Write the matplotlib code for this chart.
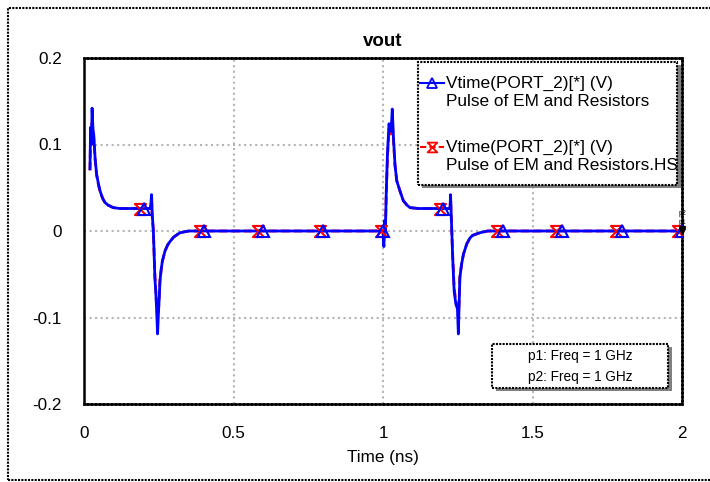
import numpy as np
import matplotlib
matplotlib.use('Agg')
import matplotlib.pyplot as plt
from matplotlib.patches import Rectangle
from matplotlib.lines import Line2D
from matplotlib.path import Path

plt.rcParams['font.family'] = ['Liberation Sans', 'DejaVu Sans']

# waveform samples (time in ns, voltage in V)
t_ns = [0.02, 0.022, 0.025, 0.027, 0.03, 0.033, 0.037, 0.042, 0.048, 0.054, 0.062,
        0.07, 0.08, 0.098, 0.12, 0.222, 0.226, 0.228, 0.232, 0.237, 0.240, 0.243,
        0.246, 0.249, 0.252, 0.254, 0.258, 0.262, 0.271, 0.28, 0.288, 0.30, 0.321,
        0.35, 1.0, 1.003, 1.005, 1.008, 1.011, 1.015, 1.02, 1.027, 1.031, 1.035,
        1.04, 1.046, 1.057, 1.068, 1.08, 1.09, 1.12, 1.224, 1.226, 1.229, 1.233,
        1.238, 1.244, 1.249, 1.252, 1.255, 1.257, 1.263, 1.269, 1.28, 1.291, 1.30,
        1.324, 1.35, 2.0]
v_em = [0.072, 0.12, 0.10, 0.142, 0.118, 0.11, 0.085, 0.066, 0.055, 0.046, 0.038,
        0.033, 0.030, 0.027, 0.026, 0.026, 0.042, 0.02, 0.0, -0.054, -0.07, -0.092,
        -0.119, -0.095, -0.075, -0.058, -0.045, -0.035, -0.023, -0.016, -0.012, -0.007, -0.002,
        0.0, 0.0, -0.018, 0.012, 0.0, 0.046, 0.09, 0.124, 0.115, 0.141, 0.108,
        0.077, 0.058, 0.046, 0.035, 0.030, 0.027, 0.026, 0.026, 0.042, 0.01, -0.03,
        -0.07, -0.085, -0.09, -0.119, -0.08, -0.054, -0.038, -0.027, -0.015, -0.008, -0.005,
        -0.002, 0.0, 0.0]
v_hs = [0.07, 0.11, 0.10, 0.125, 0.115, 0.105, 0.083, 0.065, 0.054, 0.045, 0.038,
        0.033, 0.030, 0.027, 0.026, 0.026, 0.036, 0.018, 0.0, -0.05, -0.068, -0.088,
        -0.10, -0.092, -0.073, -0.057, -0.045, -0.035, -0.023, -0.016, -0.012, -0.007, -0.002,
        0.0, 0.0, -0.012, 0.008, 0.0, 0.044, 0.085, 0.118, 0.112, 0.128, 0.105,
        0.076, 0.058, 0.046, 0.035, 0.030, 0.027, 0.026, 0.026, 0.036, 0.01, -0.028,
        -0.066, -0.082, -0.088, -0.10, -0.078, -0.053, -0.038, -0.027, -0.015, -0.008, -0.005,
        -0.002, 0.0, 0.0]

# marker positions along each trace
mk_em = [0.2, 0.4, 0.6, 0.8, 1.0, 1.2, 1.4, 1.6, 1.8, 2.0]
mk_hs = [0.187, 0.388, 0.582, 0.789, 0.993, 1.19, 1.381, 1.579, 1.779, 1.987]

legend_labels = ['Vtime(PORT_2)[*] (V)\nPulse of EM and Resistors',
                 'Vtime(PORT_2)[*] (V)\nPulse of EM and Resistors.HS']
marker_info = ['p1: Freq = 1 GHz', 'p2: Freq = 1 GHz']

W, H = 710, 482
def px(x, y):
    return (x / W, 1 - y / H)

fig = plt.figure(figsize=(7.1, 4.82), dpi=100)
ax = fig.add_axes([84 / W, 1 - 404 / H, (682 - 84) / W, (404 - 58) / H])

# hourglass marker
hour = Path([(-1, 1), (1, 1), (-1, -1), (1, -1), (-1, 1)],
            [Path.MOVETO, Path.LINETO, Path.LINETO, Path.LINETO, Path.CLOSEPOLY])

ax.plot(t_ns, v_hs, color='red', lw=2.0, ls=(0, (3, 1.5)), zorder=3)
ax.plot(t_ns, v_em, color='blue', lw=2.0, zorder=4)
ax.plot(mk_hs, np.interp(mk_hs, t_ns, v_hs), ls='none', marker=hour, ms=8,
        mfc='none', mec='red', mew=1.5, zorder=5)
ax.plot(mk_em, np.interp(mk_em, t_ns, v_em), ls='none', marker='^', ms=8,
        mfc='none', mec='blue', mew=1.5, zorder=5)

# p1 / p2 marker tags at the end
ax.plot([2.0, 2.0], [0.0, 0.002], ls='none', marker='v', ms=5, color='black', zorder=6, clip_on=False)
ax.text(2.0, 0.016, 'p2', fontsize=5, ha='center', va='bottom', zorder=6)
ax.text(2.0, 0.006, 'p1', fontsize=5, ha='center', va='bottom', zorder=6)

ax.set_xlim(0, 2)
ax.set_ylim(-0.2, 0.2)
ax.set_xticks([0, 0.5, 1, 1.5, 2])
ax.set_xticklabels(['0', '0.5', '1', '1.5', '2'])
ax.set_yticks([-0.2, -0.1, 0, 0.1, 0.2])
ax.set_yticklabels(['-0.2', '-0.1', '0', '0.1', '0.2'])
ax.tick_params(length=0, labelsize=12.3)
ax.tick_params(axis='y', pad=16)
ax.tick_params(axis='x', pad=16)
ax.grid(True, color='#b4b4b4', ls=':', lw=1.5)
for s in ax.spines.values():
    s.set_linewidth(1.8)
    s.set_linestyle((0, (1, 0.6)))
ax.spines['left'].set_linestyle('-')
ax.set_xlabel('Time (ns)', fontsize=12.3, labelpad=6)
ax.set_title('vout', fontsize=13.5, fontweight='bold', pad=9)

# outer dotted frame
fig.patches.append(Rectangle(px(8, 480), 720 / W, 472 / H, transform=fig.transFigure,
                             fill=False, ec='black', lw=1.5, ls=(0, (1, 0.6))))

def box(x0, y0, x1, y1):
    sx, sy = px(x0 + 4, y1 + 3)
    fig.patches.append(Rectangle((sx, sy), (x1 - x0) / W, (y1 - y0) / H,
                                 transform=fig.transFigure, fc='#808080', ec='none', zorder=8))
    bx, by = px(x0, y1)
    fig.patches.append(Rectangle((bx, by), (x1 - x0) / W, (y1 - y0) / H,
                                 transform=fig.transFigure, fc='white', ec='black',
                                 lw=1.5, ls=(0, (1, 0.6)), zorder=9))

# legend
box(418, 62, 677, 185)
for (yl, lab, col, mk, dash) in [(83, legend_labels[0], 'blue', '^', '-'),
                                 (147, legend_labels[1], 'red', hour, (0, (3, 1.5)))]:
    xa, ya = px(420, yl)
    xb, _ = px(444, yl)
    fig.add_artist(Line2D([xa, xb], [ya, ya], color=col, lw=1.5, ls=dash,
                          transform=fig.transFigure, zorder=10))
    xm, _ = px(432, yl)
    fig.add_artist(Line2D([xm], [ya], color=col, marker=mk, ms=7, mfc='none', mew=1.3,
                          transform=fig.transFigure, zorder=10))
    l1, l2 = lab.split('\n')
    fig.text(*px(446, yl), l1, fontsize=12.4, va='center', ha='left', zorder=11)
    fig.text(*px(446, yl + 19), l2, fontsize=12.4, va='center', ha='left', zorder=11)

# marker readout box
box(492, 344, 668, 388)
fig.text(*px(580, 356), marker_info[0], fontsize=9.8, va='center', ha='center', zorder=11)
fig.text(*px(580, 377), marker_info[1], fontsize=9.8, va='center', ha='center', zorder=11)

fig.savefig('out.png', dpi=100)
